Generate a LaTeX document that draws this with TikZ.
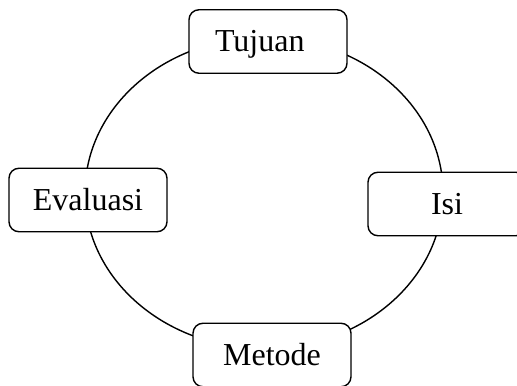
\documentclass[tikz,border=0pt]{standalone}
\usepackage{fontspec}
\setmainfont{Liberation Serif}
\usetikzlibrary{shapes}
\tikzset{stage/.style={draw,fill=white,rounded corners=0.2cm,minimum width=3.16cm,minimum height=1.27cm,text height=0.42cm,text depth=0pt,font=\fontsize{18.2}{20}\selectfont}}

\begin{document}
\begin{tikzpicture}[line width=0.8pt]
\useasboundingbox (0,0) rectangle (10.34,-7.72);
\node[draw] (cycle) at (5.28,-3.86) [ellipse, minimum width=7.16cm, minimum height=6.22cm] {};
\node[stage, text width=2.12cm, inner xsep=0.52cm, align=left] (tujuan) at (5.36,-0.83) {Tujuan};
\node[stage] (isi) at (8.94,-4.08) {Isi};
\node[stage] (metode) at (5.44,-7.10) {Metode};
\node[stage] (evaluasi) at (1.76,-4.00) {Evaluasi};
\end{tikzpicture}
\end{document}
